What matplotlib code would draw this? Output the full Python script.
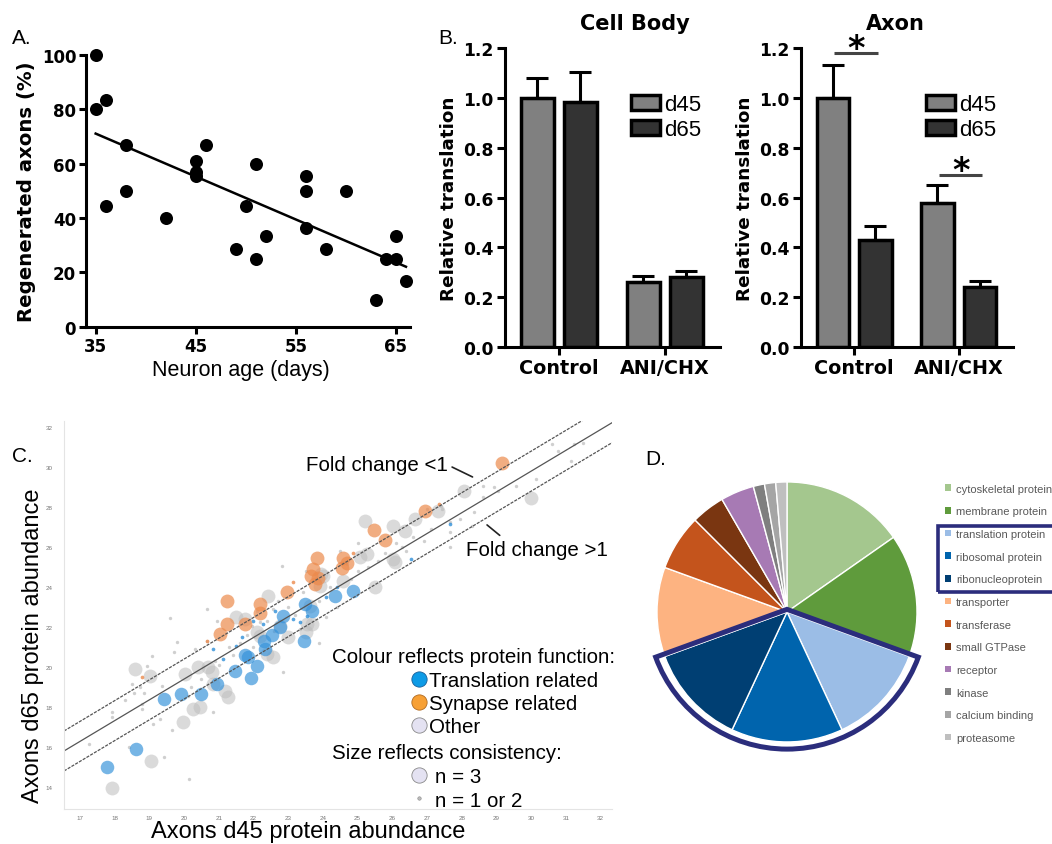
import numpy as np
import matplotlib
matplotlib.use("Agg")
import matplotlib.pyplot as plt
from matplotlib.patches import Wedge, Rectangle, Patch
from matplotlib.lines import Line2D

plt.rcParams['font.family'] = ['Liberation Sans', 'DejaVu Sans']
BOLD = dict(fontfamily="DejaVu Sans", fontweight="bold")

# =========================
# A. regeneration vs age
# =========================
age_days = [35, 35, 36, 36, 38, 38, 42, 45, 45, 45, 46, 49, 50, 51, 51, 52,
            56, 56, 56, 58, 60, 63, 64, 65, 65, 66]
regen_pct = [100, 80, 83.3, 44.4, 66.7, 50, 40, 61, 57, 55.5, 66.7, 28.6, 44.4, 60, 25, 33.3,
             55.6, 50, 36.4, 28.6, 50, 10, 25, 25, 33.3, 16.7]

# =========================
# B. relative translation
# =========================
groups = ["Control", "ANI/CHX"]
body_d45 = [1.00, 0.26]
body_d45_err = [0.08, 0.024]
body_d65 = [0.985, 0.28]
body_d65_err = [0.12, 0.027]
axon_d45 = [1.00, 0.58]
axon_d45_err = [0.13, 0.07]
axon_d65 = [0.43, 0.24]
axon_d65_err = [0.055, 0.025]
axon_sig_y = [1.18, 0.69]

# =========================
# C. d45 vs d65 abundance
# =========================
blue_big_x = [17.77, 18.62, 19.43, 19.90, 20.50, 20.94, 21.47, 21.93, 21.84, 22.10, 21.75,
              22.33, 22.52, 22.30, 22.76, 22.84, 23.46, 23.48, 23.70, 24.35, 24.87]
blue_big_y = [15.00, 15.90, 18.40, 18.65, 18.65, 19.15, 19.80, 19.45, 20.50, 20.05, 20.60,
              20.90, 21.60, 21.30, 22.00, 22.55, 21.30, 23.15, 22.80, 23.55, 23.80]
orange_big_x = [21.03, 21.23, 21.23, 21.75, 22.19, 22.19, 22.96, 23.67, 23.72, 23.82, 23.87,
                23.77, 24.54, 24.57, 24.68, 25.47, 25.80, 26.94, 29.16]
orange_big_y = [21.65, 22.15, 23.28, 22.15, 22.70, 23.15, 23.73, 24.57, 24.90, 25.45, 24.48,
                24.15, 24.98, 25.45, 25.23, 26.87, 26.35, 27.80, 30.20]
gray_big_x = [17.92, 18.58, 19.02, 19.05, 19.96, 20.27, 20.46, 20.03, 20.40, 20.70,
              20.80, 20.84, 21.18, 21.27, 21.50, 21.75, 22.09, 22.19, 22.38, 22.57,
              22.42, 22.76, 23.00, 23.50, 23.53, 23.63, 23.70, 23.92, 23.95, 24.00,
              24.58, 25.07, 25.27, 25.50, 26.02, 26.08, 25.20, 26.02, 26.37, 26.65,
              27.31, 28.07, 30.00]
gray_big_y = [13.95, 19.90, 19.57, 15.30, 17.25, 17.90, 18.00, 19.65, 20.00, 20.00,
              19.75, 19.15, 18.80, 18.50, 22.50, 22.40, 21.75, 21.55, 20.65, 20.50,
              23.55, 22.05, 21.50, 21.75, 22.15, 23.05, 22.15, 24.05, 24.65, 24.55,
              24.30, 25.50, 25.65, 24.00, 25.40, 25.25, 27.30, 27.05, 26.80, 27.40,
              27.80, 28.80, 28.45]
gray_small_x = [17.26, 17.92, 17.92, 18.30, 18.49, 18.56, 18.80, 18.85, 18.92, 19.07,
                19.10, 19.43, 19.60, 19.79, 19.70, 19.66, 20.15, 19.35, 18.73, 18.40,
                20.31, 20.65, 20.65, 20.94, 20.20, 20.84, 20.10, 19.30, 18.80, 22.81,
                22.19, 21.95, 22.10, 22.57, 23.35, 23.43, 24.10, 24.68, 21.30, 21.60,
                21.80, 22.00, 22.40, 22.70, 23.00, 23.20, 23.90, 24.20, 24.40, 24.80,
                25.00, 25.30, 25.60, 25.80, 26.10, 26.40, 26.60, 26.90, 27.10, 27.67,
                27.40, 27.67, 27.95, 28.30, 28.36, 28.60, 28.60, 28.93, 29.05, 29.56,
                30.13, 30.59, 30.76, 31.22, 31.50, 31.15, 27.00, 25.00, 24.50, 23.50,
                22.84, 23.90, 26.27, 27.67, 27.42, 21.00, 21.40, 20.50, 20.90, 22.60]
gray_small_y = [16.15, 17.75, 17.50, 18.35, 19.15, 18.70, 18.15, 18.70, 20.05, 20.55,
                17.15, 15.50, 22.45, 21.25, 20.75, 16.85, 14.40, 19.05, 19.00, 16.00,
                20.90, 22.90, 21.30, 22.30, 19.00, 17.75, 18.55, 17.40, 17.90, 25.05,
                22.25, 22.05, 22.80, 22.90, 21.90, 23.75, 22.50, 25.15, 21.00, 21.20,
                21.60, 21.00, 22.30, 23.30, 23.00, 22.60, 23.30, 24.00, 23.00, 24.40,
                24.80, 25.00, 25.30, 25.70, 26.20, 25.80, 26.50, 26.30, 26.90, 26.00,
                28.05, 27.25, 27.40, 27.05, 27.75, 28.50, 29.05, 29.00, 28.80, 29.05,
                29.40, 31.15, 30.80, 31.15, 31.20, 30.30, 27.90, 26.20, 25.80, 24.80,
                19.75, 21.20, 26.00, 26.75, 27.90, 20.10, 20.60, 19.40, 20.30, 21.80]
blue_small_x = [22.62, 22.28, 21.66, 21.51, 23.15, 23.34, 23.53, 21.13, 24.10, 20.84,
                27.65, 26.53, 22.00, 24.40]
blue_small_y = [22.80, 22.15, 21.50, 21.05, 22.40, 22.25, 22.55, 20.40, 23.50, 20.90,
                27.15, 25.40, 22.30, 24.00]
orange_small_x = [18.80, 20.65, 23.15, 24.86, 27.35]
orange_small_y = [19.50, 21.30, 24.25, 25.70, 28.15]
# fitted line y = slope*x + intercept, fold-change bands at +/-1
fit_slope, fit_intercept = 1.04, -1.4
band_offsets = [1, 0, -1]

# =========================
# D. protein classes
# =========================
classes = ["cytoskeletal protein", "membrane protein", "translation protein",
           "ribosomal protein", "ribonucleoprotein", "transporter", "transferase",
           "small GTPase", "receptor", "kinase", "calcium binding", "proteasome"]
class_counts = [11, 11, 9, 10, 9, 8, 5, 3, 3, 1, 1, 1]
class_colors = ["#a4c78e", "#5f9b3c", "#9bbde6", "#0064ad", "#003f73", "#fdb381",
                "#c4541c", "#7a3611", "#a77ab4", "#7f7f7f", "#a5a5a5", "#bfbfbf"]
highlight = [2, 3, 4]
navy = "#2b2d7c"

fig = plt.figure(figsize=(10.52, 8.45), dpi=100)

# ---------- A ----------
axA = fig.add_axes([0.0817, 0.612, 0.308, 0.322])
axA.scatter(age_days, regen_pct, s=88, color="black", zorder=3, clip_on=False, linewidths=0)
fit = np.polyfit(age_days, regen_pct, 1)
xx = np.array([min(age_days), max(age_days)])
axA.plot(xx, np.polyval(fit, xx), color="black", lw=1.8)
axA.set_xlim(34.03, 66.4)
axA.set_ylim(0, 100)
axA.set_xticks([35, 45, 55, 65], ["35", "45", "55", "65"], fontsize=12, **BOLD)
axA.set_yticks([0, 20, 40, 60, 80, 100], ["0", "20", "40", "60", "80", "100"],
               fontsize=12, **BOLD)
axA.spines[["top", "right"]].set_visible(False)
for s in ["left", "bottom"]:
    axA.spines[s].set_linewidth(2.2)
axA.tick_params(width=2.2, length=5, pad=2)
axA.set_ylabel("Regenerated axons (%)", fontsize=14.2, labelpad=4, **BOLD)
axA.set_xlabel("Neuron age (days)", fontsize=15.5, labelpad=0)
axA.xaxis.set_label_coords(0.478, -0.118)

# ---------- B ----------
bar_w = 0.31
bar_off = 0.203
c45, c65 = "#808080", "#333333"


def bar_panel(ax, d45, e45, d65, e65, title, title_x, leg_x):
    x = np.arange(len(groups))
    ekw = dict(elinewidth=2.2, capthick=2.2, capsize=8, ecolor="black")
    ax.bar(x - bar_off, d45, bar_w, color=c45, edgecolor="black", lw=2.5,
           yerr=[np.zeros(len(e45)), e45], error_kw=ekw, zorder=2)
    ax.bar(x + bar_off, d65, bar_w, color=c65, edgecolor="black", lw=2.5,
           yerr=[np.zeros(len(e65)), e65], error_kw=ekw, zorder=2)
    ax.set_xlim(-0.51, 1.52)
    ax.set_ylim(0, 1.2)
    yt = np.arange(0, 1.21, 0.2)
    ax.set_yticks(yt, [f"{v:.1f}" for v in yt], fontsize=12.3, **BOLD)
    ax.set_xticks(x, groups, fontsize=13.8, **BOLD)
    ax.spines[["top", "right"]].set_visible(False)
    for s in ["left", "bottom"]:
        ax.spines[s].set_linewidth(2.2)
    ax.tick_params(width=2.2, length=6, pad=2)
    ax.set_ylabel("Relative translation", fontsize=13.2, labelpad=4, **BOLD)
    ax.set_title(title, fontsize=15, x=title_x, pad=14, **BOLD)
    handles = [Patch(facecolor=c45, edgecolor="black", lw=2.5),
               Patch(facecolor=c65, edgecolor="black", lw=2.5)]
    ax.legend(handles, ["d45", "d65"], loc="upper left", bbox_to_anchor=(leg_x, 0.846),
              frameon=False, fontsize=16, handlelength=1.3, handleheight=0.65,
              handletextpad=0.2, labelspacing=0.18, borderpad=0, borderaxespad=0)


axB1 = fig.add_axes([0.48, 0.588, 0.2044, 0.354])
bar_panel(axB1, body_d45, body_d45_err, body_d65, body_d65_err, "Cell Body", 0.605, 0.586)
axB2 = fig.add_axes([0.7614, 0.588, 0.2015, 0.354])
bar_panel(axB2, axon_d45, axon_d45_err, axon_d65, axon_d65_err, "Axon", 0.443, 0.59)
for i, y in enumerate(axon_sig_y):
    axB2.plot([i - 0.19, i + 0.225], [y, y], color="#444444", lw=2.2, clip_on=False,
              solid_capstyle="butt")
    axB2.text(i + 0.02, y + 0.018, "*", fontsize=24, ha="center", va="center", **BOLD)

# ---------- C ----------
axC = fig.add_axes([0.0608, 0.0414, 0.521, 0.459])
axC.scatter(gray_small_x, gray_small_y, s=6, color="#c4c4c4", alpha=0.8, linewidths=0)
axC.scatter(gray_big_x, gray_big_y, s=100, color="#bdbdbd", alpha=0.55, linewidths=0)
axC.scatter(blue_small_x, blue_small_y, s=7, color="#2f8fd8", alpha=0.8, linewidths=0)
axC.scatter(orange_small_x, orange_small_y, s=7, color="#ec8a4c", alpha=0.8, linewidths=0)
axC.scatter(blue_big_x, blue_big_y, s=95, color="#3592da", alpha=0.68, linewidths=0)
axC.scatter(orange_big_x, orange_big_y, s=100, color="#ec8a4c", alpha=0.7, linewidths=0)
xl = np.array([16.54, 32.33])
for off in band_offsets:
    ls = "-" if off == 0 else (0, (2.5, 1))
    axC.plot(xl, fit_slope * xl + fit_intercept + off, color="#555555", lw=0.9, ls=ls)
axC.set_xlim(16.54, 32.33)
axC.set_ylim(12.9, 32.3)
axC.set_xticks(np.arange(17, 33, 1))
axC.set_yticks(np.arange(14, 33, 2))
axC.spines[["top", "right"]].set_visible(False)
for s in ["left", "bottom"]:
    axC.spines[s].set_color("#e4e4e4")
    axC.spines[s].set_linewidth(0.8)
axC.tick_params(length=0, labelsize=4.5, labelcolor="#777777")
axC.tick_params(axis="y", pad=8)
axC.tick_params(axis="x", pad=4)
axC.set_ylabel("Axons d65 protein abundance", fontsize=17)
axC.set_xlabel("Axons d45 protein abundance", fontsize=17)
axC.yaxis.set_label_coords(-0.036, 0.423)
axC.xaxis.set_label_coords(0.445, -0.028)

FS_C = 14.8
axC.text(0.441, 0.889, "Fold change <1", transform=axC.transAxes, fontsize=FS_C,
         va="center", ha="left")
axC.annotate("", xy=(0.75, 0.853), xytext=(0.7036, 0.8848), xycoords="axes fraction",
             arrowprops=dict(arrowstyle="-", color="#222222", lw=1.2))
axC.text(0.7336, 0.668, "Fold change >1", transform=axC.transAxes, fontsize=FS_C,
         va="center", ha="left")
axC.annotate("", xy=(0.799, 0.701), xytext=(0.768, 0.737), xycoords="axes fraction",
             arrowprops=dict(arrowstyle="-", color="#222222", lw=1.2))

axC.text(0.489, 0.392, "Colour reflects protein function:", transform=axC.transAxes,
         fontsize=FS_C, va="center")
col_handles = [
    Line2D([], [], ls="", marker="o", ms=11, mfc="#0e9be6", mec="#1a5f99", mew=0.6),
    Line2D([], [], ls="", marker="o", ms=11, mfc="#f7a035", mec="#b06a20", mew=0.6),
    Line2D([], [], ls="", marker="o", ms=11, mfc="#e4e2f2", mec="#888888", mew=0.6),
]
leg1 = axC.legend(col_handles, ["Translation related", "Synapse related", "Other"],
                  loc="upper left", bbox_to_anchor=(0.632, 0.355), frameon=False,
                  fontsize=FS_C, handlelength=0.8, handletextpad=0.12,
                  labelspacing=0.18, borderpad=0, borderaxespad=0)
axC.add_artist(leg1)
axC.text(0.489, 0.147, "Size reflects consistency:", transform=axC.transAxes,
         fontsize=FS_C, va="center")
size_handles = [
    Line2D([], [], ls="", marker="o", ms=11, mfc="#e4e2f2", mec="#888888", mew=0.6),
    Line2D([], [], ls="", marker="o", ms=2.5, mfc="#bbbbbb", mec="#888888", mew=0.4),
]
axC.legend(size_handles, ["n = 3", "n = 1 or 2"], loc="upper left",
           bbox_to_anchor=(0.632, 0.108), frameon=False, fontsize=FS_C,
           handlelength=0.8, handletextpad=0.4, labelspacing=0.22, borderpad=0,
           borderaxespad=0)

# ---------- D ----------
axD = fig.add_axes([631 / 1052, 0.09, 312 / 1052, 312 / 845])
axD.pie(class_counts, colors=class_colors, startangle=90, counterclock=False,
        radius=1, wedgeprops=dict(edgecolor="white", linewidth=1))
axD.set_xlim(-1.2, 1.2)
axD.set_ylim(-1.2, 1.2)
axD.set_aspect("equal")
total = sum(class_counts)
a_start = 90 - 360 * sum(class_counts[:highlight[0]]) / total
a_end = 90 - 360 * sum(class_counts[:highlight[-1] + 1]) / total
axD.add_patch(Wedge((0, 0.02), 1.075, a_end, a_start, fill=False, edgecolor=navy,
                    lw=3.6, joinstyle="miter", clip_on=False))

leg_handles = [Patch(facecolor=c, edgecolor="none") for c in class_colors]
fig.legend(leg_handles, classes, loc="upper left", bbox_to_anchor=(0.898, 0.4265),
           frameon=False, fontsize=8, labelcolor="#595959", handlelength=0.55,
           handleheight=0.55, handletextpad=0.45, labelspacing=1.14, borderpad=0,
           borderaxespad=0)
fig.add_artist(Rectangle((0.8916, 0.2982), 0.12, 0.0781, transform=fig.transFigure,
                         fill=False, edgecolor=navy, lw=2.6, clip_on=False))

# panel letters
for lab, x, y in [("A.", 12, 38), ("B.", 438, 38), ("C.", 12, 457), ("D.", 645, 460)]:
    fig.text(x / 1052, 1 - y / 845, lab, fontsize=15, va="center", ha="left")

fig.savefig("out.png", dpi=100)
